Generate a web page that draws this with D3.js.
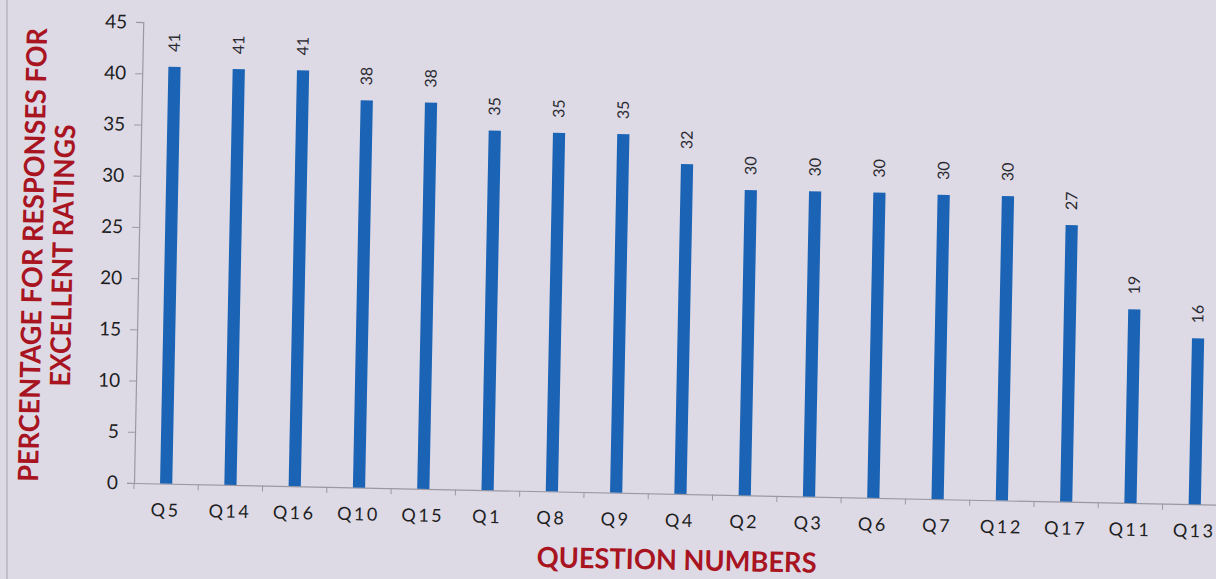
<!DOCTYPE html>
<html>
<head>
<meta charset="utf-8">
<script src="https://cdn.jsdelivr.net/npm/d3@7"></script>
<style>
  html, body { margin: 0; padding: 0; background: #dddae6; }
  svg { display: block; }
</style>
</head>
<body>
<div id="chart"></div>
<script>
// Excellent-rating percentages per question (sorted as in the figure)
const questions = ['Q5','Q14','Q16','Q10','Q15','Q1','Q8','Q9','Q4','Q2','Q3','Q6','Q7','Q12','Q17','Q11','Q13'];
const percents  = [40.7, 40.6, 40.6, 37.8, 37.7, 35.1, 35.0, 35.0, 32.2, 29.8, 29.8, 29.8, 29.7, 29.7, 27.0, 18.9, 16.2];
const yTicks    = [0, 5, 10, 15, 20, 25, 30, 35, 40, 45];

(function(){
  const width = 1216, height = 579;
  const data = questions.map((q, i) => ({ q, v: percents[i] }));

  const svg = d3.select('#chart').append('svg')
    .attr('width', width)
    .attr('height', height);

  svg.append('rect')
    .attr('width', width).attr('height', height)
    .attr('fill', '#dddae6');

  // faint page edge from the scan
  svg.append('line')
    .attr('x1', 7).attr('x2', 7).attr('y1', 0).attr('y2', height)
    .attr('stroke', '#b9b6c2').attr('stroke-width', 1.5);

  const margin = {left: 134, top: 22};
  const innerH = 461;
  const step = 64.3;
  const font = 'Lato, "Open Sans", sans-serif';

  // the scanned page is tilted a little clockwise
  const g = svg.append('g')
    .attr('transform', `rotate(1.15, ${margin.left}, ${margin.top + innerH}) translate(${margin.left},${margin.top})`);

  const x = d3.scaleBand()
    .domain(questions)
    .range([0, step * questions.length])
    .paddingInner(0.81)
    .paddingOuter(0.405);

  const y = d3.scaleLinear()
    .domain([0, 45])
    .range([innerH, 0]);

  // y axis
  const yAxis = g.append('g')
    .call(d3.axisLeft(y).tickValues(yTicks).tickSize(7).tickPadding(9));
  yAxis.select('.domain').attr('stroke', '#9a98a2').attr('stroke-width', 1.2);
  yAxis.selectAll('.tick line').attr('stroke', '#9a98a2');
  yAxis.selectAll('.tick text')
    .attr('font-family', font)
    .attr('font-size', 19)
    .attr('fill', '#1e1e22');

  // x axis line + boundary ticks
  const xAxis = g.append('g')
    .attr('transform', `translate(0,${innerH})`)
    .call(d3.axisBottom(x).tickSize(0).tickPadding(20));
  xAxis.select('.domain').attr('stroke', '#9a98a2').attr('stroke-width', 1.2);
  xAxis.selectAll('.tick text')
    .attr('font-family', font)
    .attr('font-size', 18)
    .attr('letter-spacing', 2.5)
    .attr('fill', '#1e1e22');

  g.append('g')
    .selectAll('line')
    .data(questions)
    .join('line')
    .attr('x1', d => x(d) - x.step() * x.paddingInner() / 2)
    .attr('x2', d => x(d) - x.step() * x.paddingInner() / 2)
    .attr('y1', innerH)
    .attr('y2', innerH + 6)
    .attr('stroke', '#9a98a2');

  // bars
  g.append('g')
    .selectAll('rect')
    .data(data)
    .join('rect')
    .attr('x', d => x(d.q))
    .attr('y', d => y(d.v))
    .attr('width', x.bandwidth())
    .attr('height', d => innerH - y(d.v))
    .attr('fill', '#1b63b4');

  // value labels (rotated)
  g.append('g')
    .selectAll('text')
    .data(data)
    .join('text')
    .attr('transform', d => `translate(${x(d.q) + x.bandwidth() / 2 + 5},${y(d.v) - 15}) rotate(-90)`)
    .attr('font-family', font)
    .attr('font-size', 16)
    .attr('fill', '#2a2a30')
    .text(d => Math.round(d.v));

  // axis titles
  const red = '#a8141f';
  const yTitle = g.append('g')
    .attr('transform', `translate(0,235) rotate(-90)`);
  yTitle.append('text')
    .attr('text-anchor', 'middle')
    .attr('y', -96)
    .attr('font-family', font)
    .attr('font-weight', 'bold')
    .attr('font-size', 28)
    .attr('textLength', 454)
    .attr('lengthAdjust', 'spacingAndGlyphs')
    .attr('fill', red)
    .text('PERCENTAGE FOR RESPONSES FOR');
  yTitle.append('text')
    .attr('text-anchor', 'middle')
    .attr('y', -66)
    .attr('font-family', font)
    .attr('font-weight', 'bold')
    .attr('font-size', 28)
    .attr('textLength', 262)
    .attr('lengthAdjust', 'spacingAndGlyphs')
    .attr('fill', red)
    .text('EXCELLENT RATINGS');

  g.append('text')
    .attr('x', 544)
    .attr('y', innerH + 76)
    .attr('text-anchor', 'middle')
    .attr('font-family', font)
    .attr('font-weight', 'bold')
    .attr('font-size', 28)
    .attr('textLength', 280)
    .attr('lengthAdjust', 'spacingAndGlyphs')
    .attr('fill', red)
    .text('QUESTION NUMBERS');
})();
</script>
</body>
</html>
